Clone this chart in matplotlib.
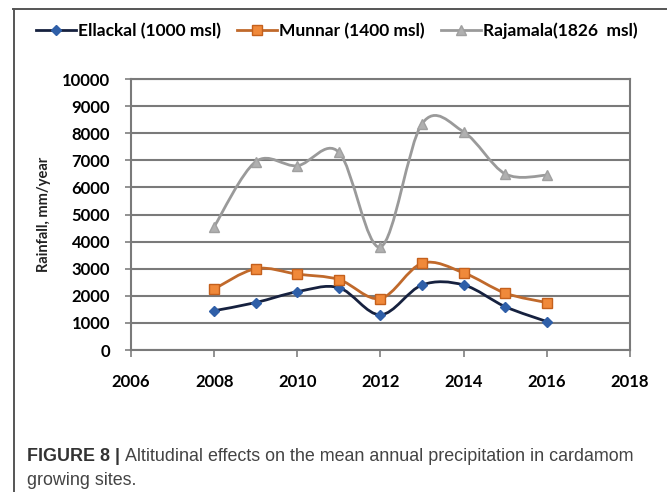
import numpy as np
import matplotlib.pyplot as plt
from matplotlib.path import Path
from matplotlib.patches import PathPatch
from matplotlib.lines import Line2D

years = [2008, 2009, 2010, 2011, 2012, 2013, 2014, 2015, 2016]
ellackal = [1450, 1750, 2150, 2300, 1300, 2400, 2400, 1600, 1050]
munnar = [2250, 3000, 2800, 2600, 1900, 3200, 2850, 2100, 1750]
rajamala = [4550, 6950, 6800, 7300, 3800, 8350, 8050, 6500, 6450]
labels = ["Ellackal (1000 msl)", "Munnar (1400 msl)", "Rajamala(1826  msl)"]


def smooth_path(x, y):
    # Excel style smoothed line: cubic bezier through the points
    x = np.asarray(x, float)
    y = np.asarray(y, float)
    verts = [(x[0], y[0])]
    codes = [Path.MOVETO]
    n = len(x)
    for i in range(n - 1):
        i0 = max(i - 1, 0)
        i3 = min(i + 2, n - 1)
        c1 = (x[i] + (x[i + 1] - x[i0]) / 6, y[i] + (y[i + 1] - y[i0]) / 6)
        c2 = (x[i + 1] - (x[i3] - x[i]) / 6, y[i + 1] - (y[i3] - y[i]) / 6)
        verts += [c1, c2, (x[i + 1], y[i + 1])]
        codes += [Path.CURVE4] * 3
    return Path(verts, codes)


fig = plt.figure(figsize=(6.67, 4.92), dpi=100)
ax = fig.add_axes([0.1964, 0.2886, 0.748, 0.5508])

tick_font = dict(family="Lato", weight="bold", size=12)

ax.set_xlim(2006, 2018)
ax.set_ylim(0, 10000)
ax.set_xticks(range(2006, 2019, 2))
ax.set_yticks(range(0, 10001, 1000))
ax.set_xticklabels([str(v) for v in range(2006, 2019, 2)], fontdict=tick_font)
ax.set_yticklabels([str(v) for v in range(0, 10001, 1000)], fontdict=tick_font)
ax.tick_params(axis="y", length=4, width=1.2, color="#7f7f7f", pad=11)
ax.tick_params(axis="x", length=5, width=1.2, color="#7f7f7f", pad=12)
ax.grid(axis="y", color="#7a7a7a", linewidth=1.5)
ax.set_axisbelow(True)
for s in ax.spines.values():
    s.set_color("#7a7a7a")
    s.set_linewidth(1.5)

ax.set_ylabel("Rainfall, mm/year", fontfamily="Lato", fontweight="bold",
              fontsize=10.5, labelpad=8, color="#222222")

series = [
    (ellackal, "#16213f", "D", 5, "#2f5fa8", "#2f5fa8"),
    (munnar, "#c0692b", "s", 7.5, "#f0893a", "#c4601c"),
    (rajamala, "#9a9a9a", "^", 7, "#b0b0b0", "#a0a0a0"),
]
handles = []
for vals, lc, mk, ms, fc, ec in series:
    ax.add_patch(PathPatch(smooth_path(years, vals), facecolor="none",
                           edgecolor=lc, linewidth=2.0, zorder=3))
    ax.plot(years, vals, linestyle="none", marker=mk, markersize=ms,
            markerfacecolor=fc, markeredgecolor=ec, zorder=4)
    handles.append(Line2D([], [], color=lc, linewidth=2.0, marker=mk,
                          markersize=ms, markerfacecolor=fc, markeredgecolor=ec))

fig.legend(handles, labels, loc="center", bbox_to_anchor=(0.505, 0.937),
           ncol=3, frameon=False, prop=dict(family="Lato", weight="bold", size=12.5),
           handlelength=2.3, handletextpad=0.15, columnspacing=0.9)

# outer frame of the figure panel
fig.add_artist(Line2D([13 / 667, 1], [1 - 9 / 492, 1 - 9 / 492],
                      color="#555555", linewidth=1.4, transform=fig.transFigure))
fig.add_artist(Line2D([14 / 667, 14 / 667], [1 - 9 / 492, 0],
                      color="#555555", linewidth=1.4, transform=fig.transFigure))

t1 = fig.text(27 / 667, 1 - 461 / 492, "FIGURE 8 | ", fontfamily="Liberation Sans",
              fontweight="bold", fontsize=12.9, color="#333333", va="baseline")
ax.annotate("Altitudinal effects on the mean annual precipitation in cardamom",
            xy=(1, 0), xycoords=t1, va="bottom", fontfamily="Liberation Sans",
            fontsize=12.9, color="#444444")
fig.text(27 / 667, 1 - 485 / 492, "growing sites.", fontfamily="Liberation Sans",
         fontsize=12.9, color="#444444", va="baseline")

plt.savefig("out.png", dpi=100)
plt.close()
